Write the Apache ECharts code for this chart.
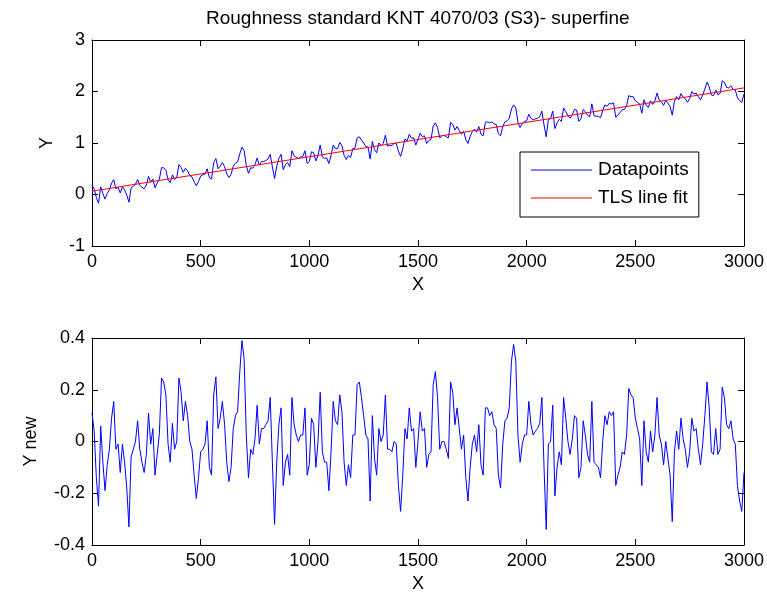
<!DOCTYPE html>
<html>
<head>
<meta charset="utf-8">
<script src="https://cdn.jsdelivr.net/npm/echarts@6/dist/echarts.min.js"></script>
<style>
html,body{margin:0;padding:0;background:#fff;}
#chart{width:767px;height:599px;}
</style>
</head>
<body>
<div id="chart"></div>
<script>
// Sampling grid of the profile: x = 0, 10, 20, ... 3000
const xStep = 10;

// Raw profile (top panel), one value per x step
const yData = [
0.18,0.11,-0.06,-0.17,0.15,0.02,-0.09,0.02,0.09,0.22,
0.29,0.11,0.14,0.03,0.15,0.09,-0.01,-0.15,0.13,0.16,
0.20,0.29,0.18,0.14,0.11,0.18,0.35,0.24,0.30,0.13,
0.22,0.30,0.52,0.52,0.47,0.29,0.23,0.38,0.29,0.33,
0.58,0.53,0.43,0.51,0.46,0.37,0.34,0.25,0.17,0.25,
0.36,0.38,0.40,0.50,0.33,0.30,0.62,0.70,0.50,0.55,
0.62,0.54,0.40,0.33,0.39,0.55,0.61,0.63,0.79,0.92,
0.85,0.56,0.41,0.52,0.51,0.58,0.71,0.57,0.64,0.64,
0.66,0.69,0.78,0.54,0.31,0.55,0.70,0.78,0.48,0.58,
0.62,0.54,0.85,0.75,0.72,0.70,0.73,0.74,0.85,0.60,
0.64,0.83,0.81,0.65,0.76,0.96,0.73,0.70,0.71,0.60,
0.76,0.96,0.89,0.89,1.01,0.95,0.76,0.68,0.76,0.72,
0.89,0.90,1.10,1.12,1.06,1.00,0.93,0.92,0.69,1.03,
0.87,0.81,1.00,0.95,0.99,1.15,0.94,0.95,0.95,0.99,
0.99,0.84,0.74,0.89,1.08,1.04,1.17,1.09,1.10,0.96,
1.07,1.19,1.12,1.14,0.99,1.05,1.07,1.33,1.39,1.30,
1.10,1.14,1.15,1.12,1.10,1.40,1.36,1.25,1.32,1.24,
1.17,1.23,1.07,0.99,1.13,1.22,1.27,1.21,1.32,1.17,
1.14,1.40,1.41,1.39,1.41,1.37,1.36,1.18,1.14,1.32,
1.41,1.43,1.48,1.66,1.74,1.68,1.40,1.30,1.38,1.42,
1.43,1.56,1.48,1.45,1.47,1.48,1.51,1.62,1.35,1.12,
1.46,1.47,1.62,1.28,1.39,1.46,1.42,1.68,1.61,1.53,
1.48,1.55,1.65,1.64,1.42,1.47,1.65,1.61,1.54,1.51,
1.76,1.53,1.52,1.52,1.49,1.63,1.74,1.71,1.77,1.76,
1.78,1.50,1.55,1.59,1.65,1.65,1.73,1.92,1.90,1.90,
1.82,1.79,1.76,1.58,1.84,1.73,1.69,1.82,1.75,1.82,
1.97,1.83,1.80,1.73,1.83,1.77,1.71,1.54,1.81,1.90,
1.84,1.96,1.89,1.86,1.79,1.86,2.00,1.95,1.97,1.90,
1.84,1.93,2.05,2.18,2.09,1.93,1.92,2.03,1.94,1.96,
2.21,2.18,2.08,2.07,2.11,2.04,2.03,1.88,1.82,1.79,
1.95
];

// TLS line fit end points
const fitX = [0, 3000];
const fitY = [0.065, 2.07];

// Residuals (bottom panel), one value per x step
const yNew = [
0.11,0.04,-0.14,-0.25,0.06,-0.08,-0.19,-0.09,-0.03,0.09,
0.155,-0.03,-0.01,-0.12,-0.01,-0.08,-0.18,-0.33,-0.06,-0.03,
0.0,0.08,-0.03,-0.08,-0.12,-0.05,0.11,-0.01,0.05,-0.13,
-0.05,0.03,0.245,0.23,0.18,-0.01,-0.08,0.07,-0.03,0.0,
0.245,0.19,0.08,0.155,0.10,0.0,-0.03,-0.13,-0.22,-0.14,
-0.04,-0.03,-0.01,0.08,-0.10,-0.13,0.18,0.25,0.05,0.09,
0.155,0.065,-0.08,-0.155,-0.10,0.05,0.10,0.115,0.27,0.39,
0.32,0.025,-0.14,-0.03,-0.05,0.01,0.14,-0.01,0.05,0.05,
0.065,0.08,0.17,-0.08,-0.32,-0.08,0.065,0.13,-0.17,-0.08,
-0.05,-0.13,0.17,0.065,0.025,0.0,0.025,0.025,0.13,-0.13,
-0.09,0.09,0.065,-0.10,0.0,0.19,-0.04,-0.08,-0.08,-0.19,
-0.04,0.155,0.08,0.065,0.18,0.115,-0.08,-0.17,-0.09,-0.14,
0.025,0.025,0.22,0.23,0.17,0.10,0.025,0.01,-0.23,0.10,
-0.065,-0.13,0.05,0.0,0.025,0.18,-0.03,-0.03,-0.04,0.0,
-0.01,-0.17,-0.27,-0.13,0.05,0.01,0.13,0.04,0.05,-0.10,
0.0,0.115,0.04,0.05,-0.10,-0.05,-0.04,0.22,0.27,0.17,
-0.03,0.0,0.0,-0.03,-0.065,0.23,0.19,0.065,0.13,0.05,
-0.03,0.025,-0.14,-0.23,-0.10,-0.01,0.025,-0.04,0.065,-0.09,
-0.13,0.13,0.13,0.10,0.115,0.065,0.05,-0.13,-0.18,-0.01,
0.08,0.09,0.13,0.31,0.375,0.31,0.025,-0.08,-0.01,0.025,
0.025,0.155,0.065,0.025,0.04,0.05,0.07,0.17,-0.10,-0.34,
-0.01,0.0,0.14,-0.21,-0.10,-0.04,-0.09,0.17,0.09,0.0,
-0.05,0.01,0.10,0.09,-0.14,-0.10,0.08,0.025,-0.05,-0.08,
0.155,-0.08,-0.09,-0.10,-0.14,0.0,0.10,0.065,0.115,0.10,
0.115,-0.17,-0.13,-0.10,-0.04,-0.05,0.025,0.205,0.18,0.17,
0.09,0.05,0.01,-0.17,0.08,-0.04,-0.08,0.04,-0.04,0.025,
0.17,0.025,-0.01,-0.09,0.0,-0.065,-0.13,-0.31,-0.04,0.04,
-0.03,0.09,0.01,-0.03,-0.10,-0.04,0.09,0.04,0.05,-0.03,
-0.09,-0.01,0.10,0.23,0.13,-0.04,-0.05,0.05,-0.05,-0.03,
0.21,0.17,0.065,0.05,0.08,0.01,-0.01,-0.17,-0.23,-0.27,
-0.12
];

// Tick settings
const xTicks = {min: 0, max: 3000, interval: 500};
const yTopTicks = {min: -1, max: 3, interval: 1};
const yBotTicks = {min: -0.4, max: 0.4, interval: 0.2};

const titleText = 'Roughness standard KNT 4070/03 (S3)- superfine';

const toPairs = (arr) => arr.map((v, i) => [i * xStep, v]);
const fitPairs = fitX.map((x, i) => [x, fitY[i]]);

const FONT = '"Liberation Sans", Arial, Helvetica, sans-serif';
const black = '#000';
const plain = (v) => String(Math.round(v * 1000) / 1000);

function xAx(gridIndex, pos, name) {
  const main = pos === 'bottom';
  return {
    type: 'value', gridIndex, position: pos,
    min: xTicks.min, max: xTicks.max, interval: xTicks.interval,
    name: main ? name : '', nameLocation: 'middle', nameGap: 30,
    nameTextStyle: {fontFamily: FONT, fontSize: 18, color: black},
    axisLine: {show: true, onZero: false, lineStyle: {color: black, width: 1}},
    axisTick: {show: true, inside: true, length: 6, lineStyle: {color: black}},
    axisLabel: {show: main, fontFamily: FONT, fontSize: 18, color: black, margin: 7, formatter: plain},
    splitLine: {show: false}
  };
}
function yAx(gridIndex, pos, ticks, name, gap) {
  const main = pos === 'left';
  return {
    type: 'value', gridIndex, position: pos,
    min: ticks.min, max: ticks.max, interval: ticks.interval,
    name: main ? name : '', nameLocation: 'middle', nameGap: gap,
    nameTextStyle: {fontFamily: FONT, fontSize: 18, color: black},
    axisLine: {show: true, onZero: false, lineStyle: {color: black, width: 1}},
    axisTick: {show: true, inside: true, length: 6, lineStyle: {color: black}},
    axisLabel: {show: main, fontFamily: FONT, fontSize: 18, color: black, margin: 7, formatter: plain},
    splitLine: {show: false}
  };
}

const chart = echarts.init(document.getElementById('chart'), null, {renderer: 'canvas'});
chart.setOption({
  animation: false,
  backgroundColor: '#fff',
  title: {
    text: titleText, left: 201, top: 4,
    textStyle: {fontFamily: FONT, fontSize: 19, fontWeight: 'normal', color: black}
  },
  legend: {
    data: ['Datapoints', 'TLS line fit'],
    orient: 'vertical', left: 520, top: 152,
    width: 180,
    padding: [8, 10, 9, 11],
    icon: 'rect',
    itemWidth: 61, itemHeight: 1, itemGap: 8,
    backgroundColor: '#fff', borderColor: black, borderWidth: 1, borderRadius: 0,
    textStyle: {fontFamily: FONT, fontSize: 19, lineHeight: 20, color: black, padding: [0, 0, 0, 1]}
  },
  grid: [
    {left: 92, top: 40, width: 652, height: 206},
    {left: 92, top: 338, width: 652, height: 207}
  ],
  xAxis: [
    xAx(0, 'bottom', 'X'), xAx(0, 'top', ''),
    xAx(1, 'bottom', 'X'), xAx(1, 'top', '')
  ],
  yAxis: [
    yAx(0, 'left', yTopTicks, 'Y', 36), yAx(0, 'right', yTopTicks, '', 10),
    yAx(1, 'left', yBotTicks, 'Y new', 52), yAx(1, 'right', yBotTicks, '', 10)
  ],
  series: [
    {
      name: 'Datapoints', type: 'line', xAxisIndex: 0, yAxisIndex: 0,
      data: toPairs(yData), symbol: 'none', showSymbol: false,
      lineStyle: {color: '#0000ff', width: 1}, itemStyle: {color: '#0000ff'}
    },
    {
      name: 'TLS line fit', type: 'line', xAxisIndex: 0, yAxisIndex: 0,
      data: fitPairs, symbol: 'none', showSymbol: false,
      lineStyle: {color: '#ff0000', width: 1}, itemStyle: {color: '#ff0000'}
    },
    {
      name: 'Y new', type: 'line', xAxisIndex: 2, yAxisIndex: 2,
      data: toPairs(yNew), symbol: 'none', showSymbol: false,
      lineStyle: {color: '#0000ff', width: 1}, itemStyle: {color: '#0000ff'}
    }
  ]
});
</script>
</body>
</html>
